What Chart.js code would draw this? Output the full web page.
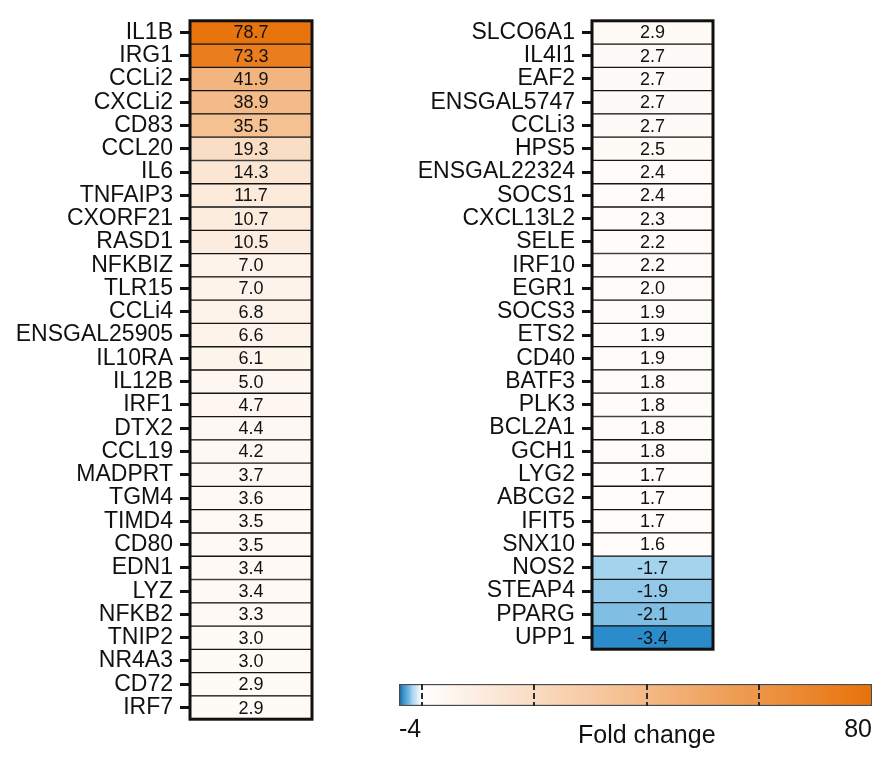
<!DOCTYPE html>
<html>
<head>
<meta charset="utf-8">
<title>Fold change heatmap</title>
<script src="https://cdn.jsdelivr.net/npm/chart.js@4.4.1/dist/chart.umd.min.js"></script>
<style>
  html, body { margin: 0; padding: 0; background: #ffffff; }
  #wrap { position: relative; width: 886px; height: 757px; overflow: hidden; }
  #wrap canvas { position: absolute; }
  #leftChart { left: 0; top: 0; }
  #rightChart { left: 380px; top: 0; }
  #scaleChart { left: 380px; top: 670px; }
</style>
</head>
<body>
<div id="wrap">
  <canvas id="leftChart" width="320" height="740"></canvas>
  <canvas id="rightChart" width="340" height="670"></canvas>
  <canvas id="scaleChart" width="506" height="87"></canvas>
</div>
<script>
// --- DATOS ---

const leftGenes = ['IL1B', 'IRG1', 'CCLi2', 'CXCLi2', 'CD83', 'CCL20', 'IL6', 'TNFAIP3', 'CXORF21', 'RASD1',
    'NFKBIZ', 'TLR15', 'CCLi4', 'ENSGAL25905', 'IL10RA', 'IL12B', 'IRF1', 'DTX2', 'CCL19', 'MADPRT',
    'TGM4', 'TIMD4', 'CD80', 'EDN1', 'LYZ', 'NFKB2', 'TNIP2', 'NR4A3', 'CD72', 'IRF7'];
const leftValues = [78.7, 73.3, 41.9, 38.9, 35.5, 19.3, 14.3, 11.7, 10.7, 10.5,
    7.0, 7.0, 6.8, 6.6, 6.1, 5.0, 4.7, 4.4, 4.2, 3.7,
    3.6, 3.5, 3.5, 3.4, 3.4, 3.3, 3.0, 3.0, 2.9, 2.9];

const rightGenes = ['SLCO6A1', 'IL4I1', 'EAF2', 'ENSGAL5747', 'CCLi3', 'HPS5', 'ENSGAL22324', 'SOCS1', 'CXCL13L2',
    'SELE', 'IRF10', 'EGR1', 'SOCS3', 'ETS2', 'CD40', 'BATF3', 'PLK3', 'BCL2A1', 'GCH1',
    'LYG2', 'ABCG2', 'IFIT5', 'SNX10', 'NOS2', 'STEAP4', 'PPARG', 'UPP1'];
const rightValues = [2.9, 2.7, 2.7, 2.7, 2.7, 2.5, 2.4, 2.4, 2.3,
    2.2, 2.2, 2.0, 1.9, 1.9, 1.9, 1.8, 1.8, 1.8, 1.8,
    1.7, 1.7, 1.7, 1.6, -1.7, -1.9, -2.1, -3.4];

const scaleRange = [-4, 80];
const scaleTicks = [-4, 0, 20, 40, 60, 80];
const scaleTitle = 'Fold change';

// --- ESCALA DE COLOR ---

const colorStops = [
    [-4, [28, 86, 126]],
    [-3.4, [43, 139, 203]],
    [-2.1, [128, 190, 228]],
    [-1.7, [164, 211, 238]],
    [0, [255, 255, 255]],
    [80, [232, 114, 10]]
];

function colorAt(v) {
    if (v <= colorStops[0][0]) return rgb(colorStops[0][1]);
    for (let i = 1; i < colorStops.length; i++) {
        const [v1, c1] = colorStops[i];
        const [v0, c0] = colorStops[i - 1];
        if (v <= v1) {
            const t = (v - v0) / (v1 - v0);
            return rgb(c0.map((c, k) => c + (c1[k] - c) * t));
        }
    }
    return rgb(colorStops[colorStops.length - 1][1]);
}

function rgb(c) {
    return `rgb(${c.map(Math.round).join(',')})`;
}

const FONT = "'Liberation Sans', Arial, sans-serif";

// valores dentro de las celdas + marco exterior
const heatCells = {
    id: 'heatCells',
    afterDatasetsDraw(chart) {
        const { ctx, chartArea } = chart;
        const values = chart.config.options.cellValues;
        const meta = chart.getDatasetMeta(0);
        ctx.save();
        ctx.font = `18px ${FONT}`;
        ctx.fillStyle = '#111';
        ctx.textAlign = 'center';
        ctx.textBaseline = 'middle';
        meta.data.forEach((bar, i) => {
            ctx.fillText(values[i].toFixed(1), (bar.x + bar.base) / 2, bar.y + 1);
        });
        ctx.strokeStyle = '#111';
        ctx.lineWidth = 3;
        ctx.strokeRect(chartArea.left, chartArea.top, chartArea.right - chartArea.left, chartArea.bottom - chartArea.top);
        ctx.restore();
    }
};

function heatmap(canvasId, genes, values, axisWidth, padding) {
    return new Chart(document.getElementById(canvasId), {
        type: 'bar',
        data: {
            labels: genes,
            datasets: [{
                data: genes.map(() => [0, 1]),
                backgroundColor: (c) => colorAt(values[c.dataIndex]),
                borderColor: '#151515',
                borderWidth: 1,
                borderSkipped: false,
                barPercentage: 1,
                categoryPercentage: 1
            }]
        },
        options: {
            cellValues: values,
            indexAxis: 'y',
            responsive: false,
            animation: false,
            layout: { padding },
            plugins: { legend: { display: false }, tooltip: { enabled: false } },
            scales: {
                x: { display: false, min: 0, max: 1 },
                y: {
                    afterFit: (s) => { s.width = axisWidth; },
                    grid: {
                        offset: false,
                        drawOnChartArea: false,
                        drawTicks: true,
                        tickLength: 10,
                        tickWidth: 3,
                        tickColor: '#111'
                    },
                    border: { display: false },
                    ticks: {
                        color: '#111',
                        padding: 7,
                        autoSkip: false,
                        font: { family: FONT, size: 23 }
                    }
                }
            }
        },
        plugins: [heatCells]
    });
}

// --- RENDERIZADO ---

heatmap('leftChart', leftGenes, leftValues, 190, { top: 11, bottom: 12, right: 8, left: 0 });
heatmap('rightChart', rightGenes, rightValues, 212, { top: 11, bottom: 14, right: 7, left: 0 });

// barra de color con su título
const scaleTitlePlugin = {
    id: 'scaleTitle',
    afterDraw(chart) {
        const { ctx, chartArea } = chart;
        const x = chart.scales.x.getPixelForValue(40);
        ctx.save();
        ctx.font = `25px ${FONT}`;
        ctx.fillStyle = '#111';
        ctx.textAlign = 'center';
        ctx.textBaseline = 'alphabetic';
        ctx.fillText(scaleTitle, x, chartArea.bottom + 37);
        ctx.restore();
    }
};

new Chart(document.getElementById('scaleChart'), {
    type: 'bar',
    data: {
        labels: [scaleTitle],
        datasets: [{
            data: [scaleRange],
            backgroundColor: (c) => {
                const { chart } = c;
                if (!chart.chartArea) return '#fff';
                const xs = chart.scales.x;
                const x0 = xs.getPixelForValue(scaleRange[0]);
                const x1 = xs.getPixelForValue(scaleRange[1]);
                const g = chart.ctx.createLinearGradient(x0, 0, x1, 0);
                colorStops.forEach(([v, col]) => {
                    g.addColorStop((v - scaleRange[0]) / (scaleRange[1] - scaleRange[0]), rgb(col));
                });
                return g;
            },
            borderColor: '#4a4a4a',
            borderWidth: 1.5,
            borderSkipped: false,
            barPercentage: 1,
            categoryPercentage: 1
        }]
    },
    options: {
        indexAxis: 'y',
        responsive: false,
        animation: false,
        layout: { padding: { top: 14, left: 19, right: 14, bottom: 0 } },
        plugins: { legend: { display: false }, tooltip: { enabled: false } },
        scales: {
            y: { display: false },
            x: {
                type: 'linear',
                min: scaleRange[0],
                max: scaleRange[1],
                afterBuildTicks: (s) => { s.ticks = scaleTicks.map((v) => ({ value: v })); },
                afterFit: (s) => { s.height = 51; },
                grid: {
                    z: 1,
                    lineWidth: 2,
                    drawTicks: false,
                    color: (c) => (c.tick && c.tick.value > scaleRange[0] && c.tick.value < scaleRange[1]) ? '#2a2a2a' : 'rgba(0,0,0,0)'
                },
                border: { display: false, dash: [6, 3] },
                ticks: {
                    align: 'inner',
                    autoSkip: false,
                    maxRotation: 0,
                    padding: 9,
                    color: '#111',
                    font: { family: FONT, size: 25 },
                    callback: (v) => (v === scaleRange[0] || v === scaleRange[1]) ? String(v) : ''
                }
            }
        }
    },
    plugins: [scaleTitlePlugin]
});
</script>
</body>
</html>
